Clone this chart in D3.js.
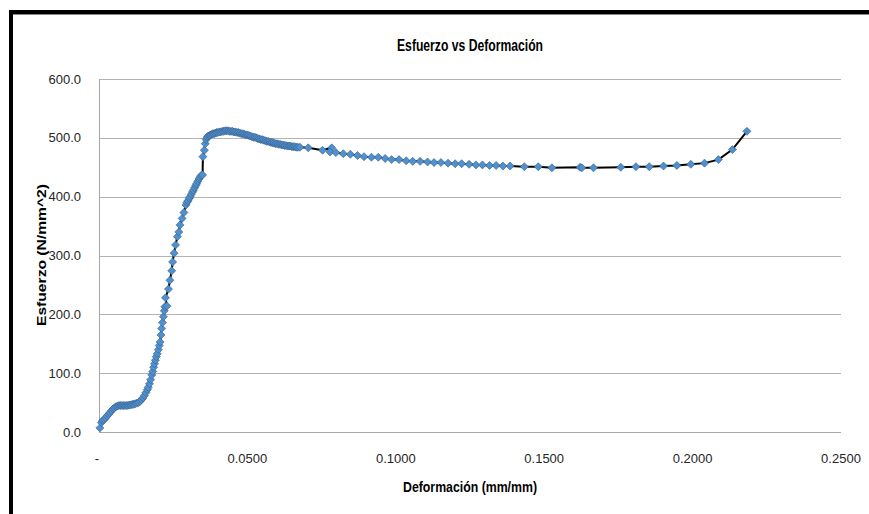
<!DOCTYPE html>
<html><head><meta charset="utf-8">
<script src="https://cdn.jsdelivr.net/npm/d3@7"></script>
<style>html,body{margin:0;padding:0;background:#fff;} svg{display:block;}</style>
</head><body>
<svg id="chart" width="869" height="514"></svg>
<script>
// ---- data ----
const chartTitle = "Esfuerzo vs Deformación";
const xAxisTitle = "Deformación (mm/mm)";
const yAxisTitle = "Esfuerzo (N/mm^2)";
const xTicks = [0, 0.05, 0.10, 0.15, 0.20, 0.25];
const xTickLabels = ["-", "0.0500", "0.1000", "0.1500", "0.2000", "0.2500"];
const yTicks = [0, 100, 200, 300, 400, 500, 600];
const yTickLabels = ["0.0", "100.0", "200.0", "300.0", "400.0", "500.0", "600.0"];

const strain = [
0.0003,0.0008,0.0012,0.0017,0.0022,0.0027,0.0032,0.0037,0.0042,0.0047,0.0052,0.0057,0.0062,0.0067,
0.0072,0.0077,0.0082,0.0087,0.0092,0.0097,0.0102,0.0107,0.0112,0.0117,0.0122,0.0127,0.0133,0.0138,
0.0143,0.0148,0.0153,0.0158,0.0163,0.0166,0.0170,0.0174,0.0178,0.0181,0.0184,0.0187,0.0190,0.0193,
0.0196,0.0200,0.0203,0.0206,0.0209,0.0211,0.0214,0.0217,0.0220,0.0222,0.0229,0.0224,0.0234,0.0239,
0.0245,0.0248,0.0253,0.0258,0.0264,0.0269,0.0273,0.0280,0.0286,0.0293,0.0296,0.0300,0.0304,0.0307,
0.0311,0.0315,0.0318,0.0322,0.0326,0.0329,0.0333,0.0337,0.0340,0.0344,0.0349,0.0350,0.0355,0.0358,
0.0361,0.0364,0.0368,0.0372,0.0376,0.0380,0.0384,0.0388,0.0392,0.0396,0.0400,0.0405,0.0410,0.0415,
0.0420,0.0425,0.0430,0.0435,0.0440,0.0445,0.0450,0.0455,0.0460,0.0465,0.0470,0.0475,0.0480,0.0485,
0.0490,0.0495,0.0500,0.0505,0.0510,0.0515,0.0520,0.0525,0.0530,0.0535,0.0540,0.0545,0.0550,0.0555,
0.0560,0.0565,0.0570,0.0575,0.0580,0.0585,0.0590,0.0595,0.0600,0.0605,0.0610,0.0615,0.0620,0.0625,
0.0630,0.0635,0.0640,0.0645,0.0650,0.0655,0.0660,0.0665,0.0670,0.0677,0.0705,0.0753,0.0784,0.0778,
0.0798,0.0823,0.0847,0.0871,0.0893,0.0918,0.0941,0.0964,0.0986,0.1011,0.1035,0.1057,0.1082,0.1107,
0.1129,0.1152,0.1176,0.1200,0.1222,0.1247,0.1270,0.1292,0.1316,0.1338,0.1361,0.1385,0.1433,0.1480,
0.1526,0.1621,0.1627,0.1666,0.1758,0.1809,0.1854,0.1902,0.1947,0.1994,0.2040,0.2087,0.2134,0.2183
];
const stress = [
7,16,19,21,24,27,30,33,36,39,41,43,44,45,
45,45,45,45,45,45,46,46,47,47,48,49,50,52,
55,58,62,67,72,76,82,89,97,103,110,116,122,128,
133,140,147,153,165,176,186,196,206,213,214,228,243,258,
274,289,304,318,332,340,352,363,373,386,390,393,397,400,
404,408,411,415,419,422,426,430,433,436,437,468,479,490,
497,501,503,504,505,506,507,507,508,509,509,510,510,511,
511,512,512,512,511,511,511,510,510,509,509,508,507,507,
506,505,505,504,503,502,501,501,500,499,498,497,497,496,
495,494,494,493,492,492,491,490,490,489,489,488,488,487,
487,486,486,486,485,485,485,484,484,484,483,479,483,476,
475,473,472,470,468,467,467,465,463,463,461,460,460,459,
458,458,457,456,456,455,454,454,453,453,452,452,451,451,
449,450,449,449,450,451,451,452,453,455,457,463,480,511
];

// ---- layout ----
const svg = d3.select("#chart");
const x = d3.scaleLinear().domain([0, 0.25]).range([99, 841]);
const y = d3.scaleLinear().domain([0, 600]).range([432, 79]);
const font = "'Liberation Sans Narrow','Arial Narrow','Liberation Sans',Arial,sans-serif";

// frame
svg.append("line").attr("x1", 9).attr("x2", 869).attr("y1", 12).attr("y2", 12)
  .attr("stroke", "#000").attr("stroke-width", 4);
svg.append("line").attr("x1", 11).attr("x2", 11).attr("y1", 10).attr("y2", 514)
  .attr("stroke", "#000").attr("stroke-width", 4);
svg.append("line").attr("x1", 13).attr("x2", 869).attr("y1", 14.5).attr("y2", 14.5)
  .attr("stroke", "#888").attr("stroke-width", 1);

// gridlines
svg.append("g").selectAll("line").data(yTicks).join("line")
  .attr("x1", x(0)).attr("x2", x(0.25))
  .attr("y1", d => Math.round(y(d)) + 0.5).attr("y2", d => Math.round(y(d)) + 0.5)
  .attr("stroke", d => d === 0 ? "#a6a6a6" : "#b3b3b3").attr("stroke-width", 1);
svg.append("line").attr("x1", x(0) + 0.5).attr("x2", x(0) + 0.5)
  .attr("y1", y(600)).attr("y2", y(0))
  .attr("stroke", "#a6a6a6").attr("stroke-width", 1);

// y tick labels
svg.append("g").selectAll("text").data(yTicks).join("text")
  .attr("x", 81).attr("y", d => y(d) + 4.5)
  .attr("text-anchor", "end")
  .attr("font-family", font).attr("font-size", 13).attr("fill", "#262626")
  .text((d, i) => yTickLabels[i]);

// x tick labels
svg.append("g").selectAll("text").data(xTicks).join("text")
  .attr("x", d => x(d) - (d === 0 ? 2 : 0)).attr("y", 463)
  .attr("text-anchor", "middle")
  .attr("font-family", font).attr("font-size", 13).attr("fill", "#262626")
  .text((d, i) => xTickLabels[i]);

// titles
svg.append("text").attr("x", 470).attr("y", 51).attr("text-anchor", "middle")
  .attr("font-family", font).attr("font-size", 17).attr("font-weight", "bold")
  .attr("textLength", 146).attr("lengthAdjust", "spacingAndGlyphs")
  .text(chartTitle);
svg.append("text").attr("x", 470).attr("y", 492).attr("text-anchor", "middle")
  .attr("font-family", font).attr("font-size", 14).attr("font-weight", "bold")
  .attr("textLength", 134).attr("lengthAdjust", "spacingAndGlyphs")
  .text(xAxisTitle);
svg.append("text").attr("transform", "translate(46,255) rotate(-90)")
  .attr("text-anchor", "middle")
  .attr("font-family", "'Liberation Sans',Arial,sans-serif").attr("font-size", 12).attr("font-weight", "bold")
  .attr("textLength", 142).attr("lengthAdjust", "spacingAndGlyphs")
  .text(yAxisTitle);

// series
const pts = strain.map((s, i) => [s, stress[i]]);
svg.append("path").datum(pts)
  .attr("d", d3.line().x(d => x(d[0])).y(d => y(d[1])))
  .attr("fill", "none").attr("stroke", "#000").attr("stroke-width", 2);

const diamond = d3.symbol(d3.symbolSquare, 32);
svg.append("g").selectAll("path").data(pts).join("path")
  .attr("transform", d => `translate(${x(d[0])},${y(d[1])}) rotate(45)`)
  .attr("d", diamond)
  .attr("fill", "#4f90d0").attr("stroke", "#3a5f86").attr("stroke-width", 0.6);
</script>
</body></html>
